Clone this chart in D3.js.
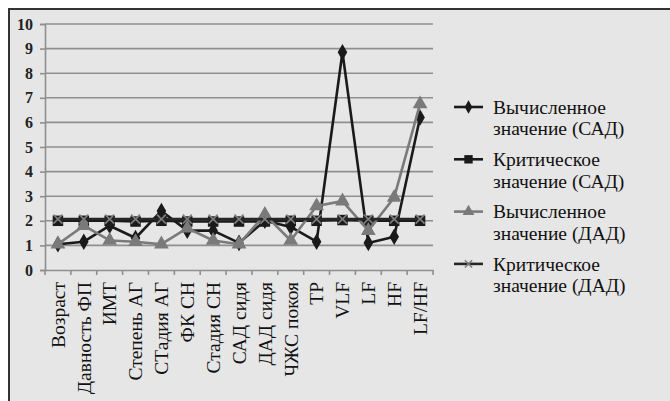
<!DOCTYPE html>
<html><head><meta charset="utf-8">
<script src="https://cdn.jsdelivr.net/npm/d3@7"></script>
<style>body{margin:0;background:#fff}svg{display:block}</style>
</head><body>
<script>
const categories = ["Возраст","Давность ФП","ИМТ","Степень АГ","СТадия АГ","ФК СН","Стадия СН","САД сидя","ДАД сидя","ЧЖС покоя","TP","VLF","LF","HF","LF/HF"];
const calcSAD = [1.05,1.15,1.8,1.3,2.4,1.6,1.6,1.1,2.0,1.75,1.15,8.85,1.1,1.35,6.2];
const critSAD = [2.0,2.0,2.0,1.97,2.0,1.97,1.97,1.97,1.97,2.0,2.0,2.03,2.0,2.0,2.0];
const calcDAD = [1.05,1.8,1.2,1.15,1.05,1.7,1.2,1.05,2.25,1.2,2.6,2.8,1.6,2.95,6.75];
const critDAD = [2.07,2.07,2.07,2.07,2.07,2.07,2.07,2.07,2.07,2.07,2.07,2.07,2.07,2.07,2.07];
const yTicks = [0,1,2,3,4,5,6,7,8,9,10];
const seriesNames = [["Вычисленное","значение (САД)"],["Критическое","значение (САД)"],["Вычисленное","значение (ДАД)"],["Критическое","значение (ДАД)"]];

const W=670,H=401;
const svg=d3.select("body").append("svg").attr("width",W).attr("height",H);
const font="'Liberation Serif','Times New Roman',serif";
svg.append("rect").attr("x",9).attr("y",9).attr("width",W).attr("height",H).attr("fill","#e6e6e6");
svg.append("line").attr("x1",8).attr("x2",W).attr("y1",9).attr("y2",9).attr("stroke","#333").attr("stroke-width",2);
svg.append("line").attr("x1",9).attr("x2",9).attr("y1",8).attr("y2",H).attr("stroke","#333").attr("stroke-width",2);

const x=d3.scaleBand().domain(categories).range([45,433]);
const y=d3.scaleLinear().domain([0,10]).range([270,24]);

svg.append("g").selectAll("line").data(yTicks.filter(d=>d>0)).join("line")
 .attr("x1",45).attr("x2",433).attr("y1",d=>y(d)).attr("y2",d=>y(d))
 .attr("stroke","#8f8f8f").attr("stroke-width",1.6);

const ya=svg.append("g").attr("transform","translate(45,0)").call(d3.axisLeft(y).tickValues(yTicks).tickSize(5).tickPadding(7));
ya.select(".domain").attr("stroke","#8f8f8f").attr("stroke-width",1.6);
ya.selectAll(".tick line").attr("stroke","#8f8f8f").attr("stroke-width",1.6);
ya.selectAll("text").attr("font-family",font).attr("font-size",16).attr("font-weight","bold").attr("fill","#222");

const xa=svg.append("g").attr("transform","translate(0,270)").call(d3.axisBottom(x).tickSize(0).tickPadding(0));
xa.select(".domain").attr("stroke","#8f8f8f").attr("stroke-width",1.6);
xa.selectAll("text").attr("font-family",font).attr("font-size",19.5).attr("fill","#111")
  .attr("text-anchor","end").attr("transform","rotate(-90)").attr("x",-12).attr("y",0).attr("dy","0.35em");
const bounds=categories.map(c=>x(c)).concat([x.range()[1]]);
svg.append("g").selectAll("line").data(bounds).join("line")
 .attr("x1",d=>d).attr("x2",d=>d).attr("y1",270).attr("y2",275).attr("stroke","#8f8f8f").attr("stroke-width",1.6);

const cx=c=>x(c)+x.bandwidth()/2;
const series=[
 {v:calcSAD,color:"#1a1a1a",mk:"diamond"},
 {v:critSAD,color:"#1a1a1a",mk:"square"},
 {v:calcDAD,color:"#7a7a7a",mk:"triangle"},
 {v:critDAD,color:"#262626",mk:"x"}
];
const symMap={diamond:d3.symbolDiamond,square:d3.symbolSquare,triangle:d3.symbolTriangle};
function drawMarker(g,mk,color,px,py,scale){
  if(mk==="x"){
    const s=4.5*scale;
    g.append("path").attr("d",`M${px-s},${py-s}L${px+s},${py+s}M${px-s},${py+s}L${px+s},${py-s}`)
     .attr("stroke","#7d7d7d").attr("stroke-width",1.6).attr("fill","none");
  } else {
    const size={diamond:80,square:110,triangle:95}[mk]*scale*scale;
    g.append("path").attr("d",d3.symbol().type(symMap[mk]).size(size)()).attr("transform",`translate(${px},${py})`).attr("fill",color);
  }
}
const line=d3.line().x((d,i)=>cx(categories[i])).y(d=>y(d));
[0,1,2,3].forEach(k=>{
  const s=series[k];
  const g=svg.append("g");
  g.append("path").datum(s.v).attr("d",line).attr("fill","none").attr("stroke",s.color).attr("stroke-width",2.6).attr("stroke-linejoin","round");
  s.v.forEach((v,i)=>drawMarker(g,s.mk,s.color,cx(categories[i]),y(v),1));
});

const ly0=107, lstep=52.3;
series.forEach((s,k)=>{
  const yy=ly0+k*lstep;
  const g=svg.append("g");
  g.append("line").attr("x1",454).attr("x2",483).attr("y1",yy).attr("y2",yy).attr("stroke",s.color).attr("stroke-width",2.6);
  drawMarker(g,s.mk,s.color,468.5,yy,0.8);
  const t=g.append("text").attr("font-family",font).attr("font-size",19.5).attr("fill","#111");
  t.append("tspan").attr("x",493).attr("y",yy).attr("dy","0.35em").text(seriesNames[k][0]);
  t.append("tspan").attr("x",493).attr("y",yy+21.5).attr("dy","0.35em").text(seriesNames[k][1]);
});
</script>
</body></html>
